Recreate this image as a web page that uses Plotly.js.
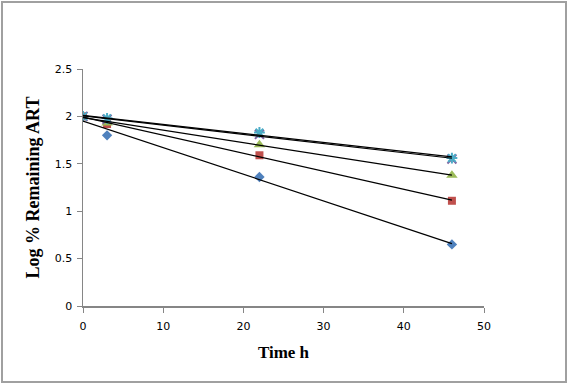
<!DOCTYPE html>
<html>
<head>
<meta charset="utf-8">
<script src="https://cdn.plot.ly/plotly-3.0.1.min.js"></script>
<style>
html,body{margin:0;padding:0;background:#fff;}
#wrap{position:relative;width:567px;height:383px;}
#chart{width:567px;height:383px;}
#frame{position:absolute;left:1px;top:1px;width:562px;height:378px;border:2px solid #a0a0a0;pointer-events:none;}
</style>
</head>
<body>
<div id="wrap"><div id="chart"></div><div id="frame"></div></div>
<script>
// Data
const timeH = [0, 3, 22, 46];
const seriesA = [2.00, 1.80, 1.36, 0.65];   // blue diamonds
const seriesB = [2.00, 1.92, 1.59, 1.11];   // red squares
const seriesC = [2.00, 1.93, 1.70, 1.38];   // green triangles
const seriesD = [2.00, 1.97, 1.81, 1.55];   // purple x
const seriesE = [2.00, 1.98, 1.83, 1.56];   // cyan asterisk
const xTicks = [0, 10, 20, 30, 40, 50];
const yTicks = [0, 0.5, 1, 1.5, 2, 2.5];
const yTickText = ['0', '0.5', '1', '1.5', '2', '2.5'];

function linFit(x, y) {
  const n = x.length;
  let sx = 0, sy = 0, sxx = 0, sxy = 0;
  for (let i = 0; i < n; i++) { sx += x[i]; sy += y[i]; sxx += x[i]*x[i]; sxy += x[i]*y[i]; }
  const m = (n*sxy - sx*sy) / (n*sxx - sx*sx);
  const b = (sy - m*sx) / n;
  const x0 = Math.min(...x), x1 = Math.max(...x);
  return {x: [x0, x1], y: [m*x0 + b, m*x1 + b]};
}

const defs = [
  {y: seriesA, symbol: 'diamond', color: '#4F81BD', size: 8, lw: 0},
  {y: seriesB, symbol: 'square', color: '#C0504D', size: 8, lw: 0},
  {y: seriesC, symbol: 'triangle-up', color: '#9BBB59', size: 10, lw: 0},
  {y: seriesD, symbol: 'x-thin-open', color: '#8064A2', size: 9, lw: 2},
  {y: seriesE, symbol: 'asterisk-open', color: '#4BACC6', size: 9, lw: 2}
];

const traces = [];
defs.forEach(d => {
  traces.push({
    x: timeH, y: d.y, type: 'scatter', mode: 'markers', showlegend: false, hoverinfo: 'skip',
    marker: {symbol: d.symbol, color: d.color, size: d.size, line: {width: d.lw, color: d.color}}
  });
});
defs.forEach(d => {
  const f = linFit(timeH, d.y);
  traces.push({
    x: f.x, y: f.y, type: 'scatter', mode: 'lines', showlegend: false, hoverinfo: 'skip',
    line: {color: '#000', width: 1.2}
  });
});

const layout = {
  width: 567, height: 383,
  margin: {l: 83, r: 83, t: 69, b: 77},
  paper_bgcolor: '#fff', plot_bgcolor: '#fff',
  showlegend: false,
  xaxis: {
    range: [0, 50], tickvals: xTicks, ticktext: xTicks.map(String),
    showgrid: false, zeroline: false, showline: true, linecolor: '#868686', linewidth: 1.5,
    ticks: 'outside', ticklen: 5, tickcolor: '#868686', tickwidth: 1, ticklabelstandoff: 4,
    tickfont: {family: 'Verdana, "DejaVu Sans", sans-serif', size: 11, color: '#000'},
    title: {text: 'Time h', font: {family: '"Liberation Serif", "Times New Roman", serif', size: 17, color: '#000', weight: 'bold'}, standoff: 14}
  },
  yaxis: {
    range: [0, 2.5], tickvals: yTicks, ticktext: yTickText,
    showgrid: false, zeroline: false, showline: true, linecolor: '#868686', linewidth: 1.5,
    ticks: 'outside', ticklen: 5, tickcolor: '#868686', tickwidth: 1, ticklabelstandoff: 2,
    tickfont: {family: 'Verdana, "DejaVu Sans", sans-serif', size: 11, color: '#000'},
    title: {text: 'Log % Remaining ART', font: {family: '"Liberation Serif", "Times New Roman", serif', size: 18, color: '#000', weight: 'bold'}, standoff: 10}
  }
};

Plotly.newPlot('chart', traces, layout, {staticPlot: true, displayModeBar: false});
</script>
</body>
</html>
